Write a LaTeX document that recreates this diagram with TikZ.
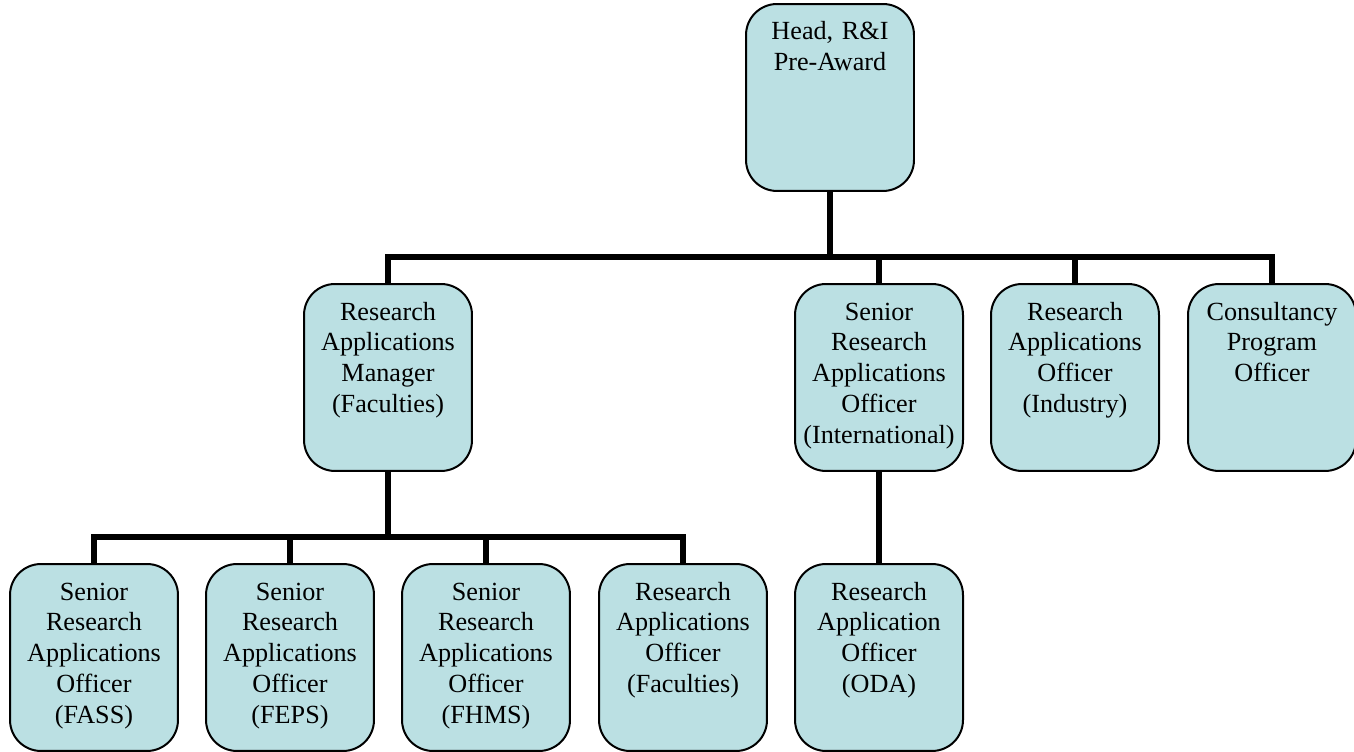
\documentclass[tikz,border=0pt]{standalone}
\usepackage{fontspec}
\setmainfont{Liberation Serif}
\usepackage{xcolor}
\usepackage{tikz}
\definecolor{BOXFILL}{HTML}{BBE0E3}
\definecolor{INK}{HTML}{000000}

\begin{document}
\begin{tikzpicture}[
  x=0.02cm, y=-0.02cm,
  unit/.style={draw=INK, fill=BOXFILL, line width=0.04cm, rounded corners=0.62cm,
    align=center, text width=3.2cm, inner xsep=0.08cm, inner ysep=0.08cm,
    text height=0.64cm, text depth=2.94cm, anchor=north,
    font=\fontsize{14.9}{17.6}\selectfont, text=INK},
  link/.style={draw=INK, line width=0.11cm},
]
\useasboundingbox (0,0) rectangle (1354,751);

% top
\node[unit] (head) at (830,3) {Head, R\&I\\Pre-Award};

% second row
\node[unit] (ram)  at (388,283)  {Research\\Applications\\Manager\\(Faculties)};
\node[unit] (srai) at (879,283)  {Senior\\Research\\Applications\\Officer\\(International)};
\node[unit] (raoi) at (1075,283) {Research\\Applications\\Officer\\(Industry)};
\node[unit] (cpo)  at (1272,283) {Consultancy\\Program\\Officer};

% third row
\node[unit] (fass) at (94,563)  {Senior\\Research\\Applications\\Officer\\(FASS)};
\node[unit] (feps) at (290,563) {Senior\\Research\\Applications\\Officer\\(FEPS)};
\node[unit] (fhms) at (486,563) {Senior\\Research\\Applications\\Officer\\(FHMS)};
\node[unit] (raof) at (683,563) {Research\\Applications\\Officer\\(Faculties)};
\node[unit] (oda)  at (879,563) {Research\\Application\\Officer\\(ODA)};

% connectors
\coordinate (bartop) at (830,257);
\coordinate (barmid) at (388,537);
\draw[link] (head.south) -- (bartop);
\foreach \n in {ram,srai,raoi,cpo} { \draw[link] (bartop) -| (\n.north); }
\draw[link] (ram.south) -- (barmid);
\foreach \n in {fass,feps,fhms,raof} { \draw[link] (barmid) -| (\n.north); }
\draw[link] (srai.south) -- (oda.north);

\end{tikzpicture}
\end{document}
